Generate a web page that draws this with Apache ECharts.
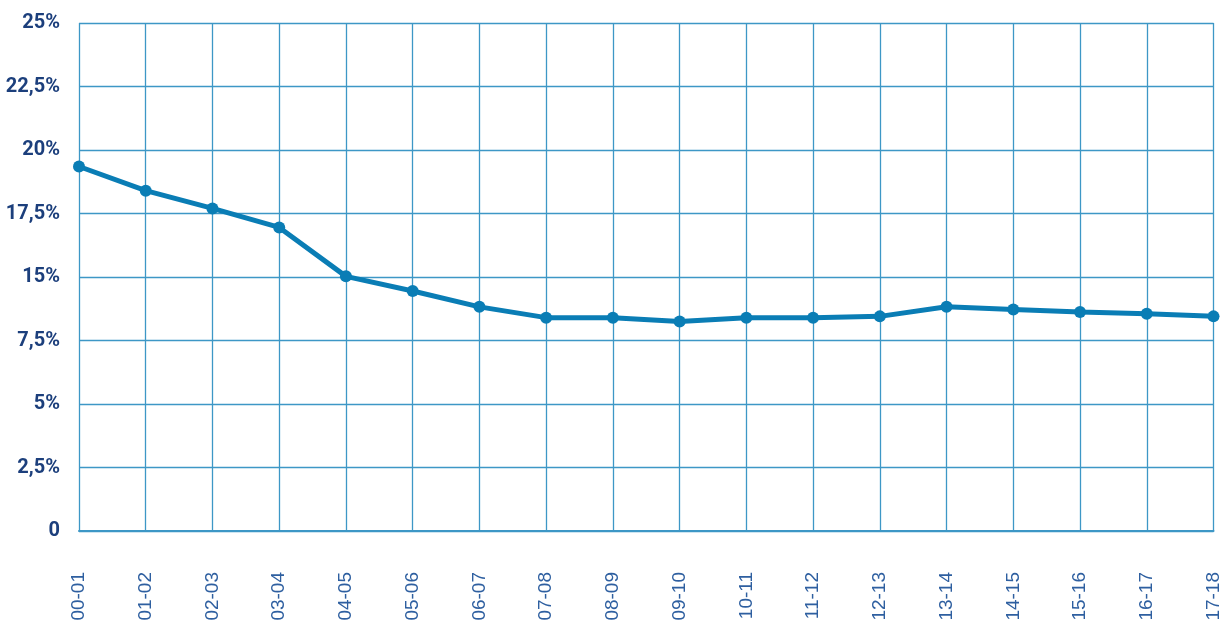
<!DOCTYPE html>
<html><head><meta charset="utf-8">
<script src="https://cdn.jsdelivr.net/npm/echarts@6/dist/echarts.min.js"></script>
<style>html,body{margin:0;padding:0;background:#fff}#c{width:1223px;height:625px}</style>
</head><body><div id="c"></div>
<script>
const categories = ['00-01','01-02','02-03','03-04','04-05','05-06','06-07','07-08','08-09','09-10','10-11','11-12','12-13','13-14','14-15','15-16','16-17','17-18'];
// tick labels as printed on the reference (equally spaced grid lines)
const tickLabels = ['0','2,5%','5%','7,5%','15%','17,5%','20%','22,5%','25%'];
// values measured in grid-line units (0 = bottom line, 8 = top line)
const values = [5.74,5.36,5.08,4.78,4.01,3.78,3.53,3.36,3.36,3.30,3.36,3.36,3.38,3.53,3.49,3.45,3.42,3.38];

const chart = echarts.init(document.getElementById('c'));
chart.setOption({
  animation:false,
  grid:{left:79,right:8,top:23,bottom:94},
  xAxis:{type:'category',data:categories,boundaryGap:false,
    axisLine:{show:true,lineStyle:{color:'#3d97c6',width:2}},
    axisTick:{show:false},
    splitLine:{show:true,lineStyle:{color:'#3d97c6',width:1.3}},
    axisLabel:{rotate:90,margin:41,color:'#2e5fa0',fontSize:19,fontFamily:'Liberation Sans, Arial',interval:0}},
  yAxis:{type:'value',min:0,max:8,interval:1,
    axisLine:{show:false},axisTick:{show:false},
    splitLine:{show:true,lineStyle:{color:'#3d97c6',width:1.3}},
    axisLabel:{formatter:v=>tickLabels[Math.round(v)],color:'#1c3f7c',fontSize:20,fontWeight:'bold',fontFamily:'Roboto',margin:19,verticalAlign:'middle',padding:[0,0,8,0]}},
  series:[{type:'line',data:values,symbol:'circle',symbolSize:12,
    lineStyle:{color:'#0a7db5',width:5},itemStyle:{color:'#0a7db5'},clip:false}]
});
</script></body></html>
